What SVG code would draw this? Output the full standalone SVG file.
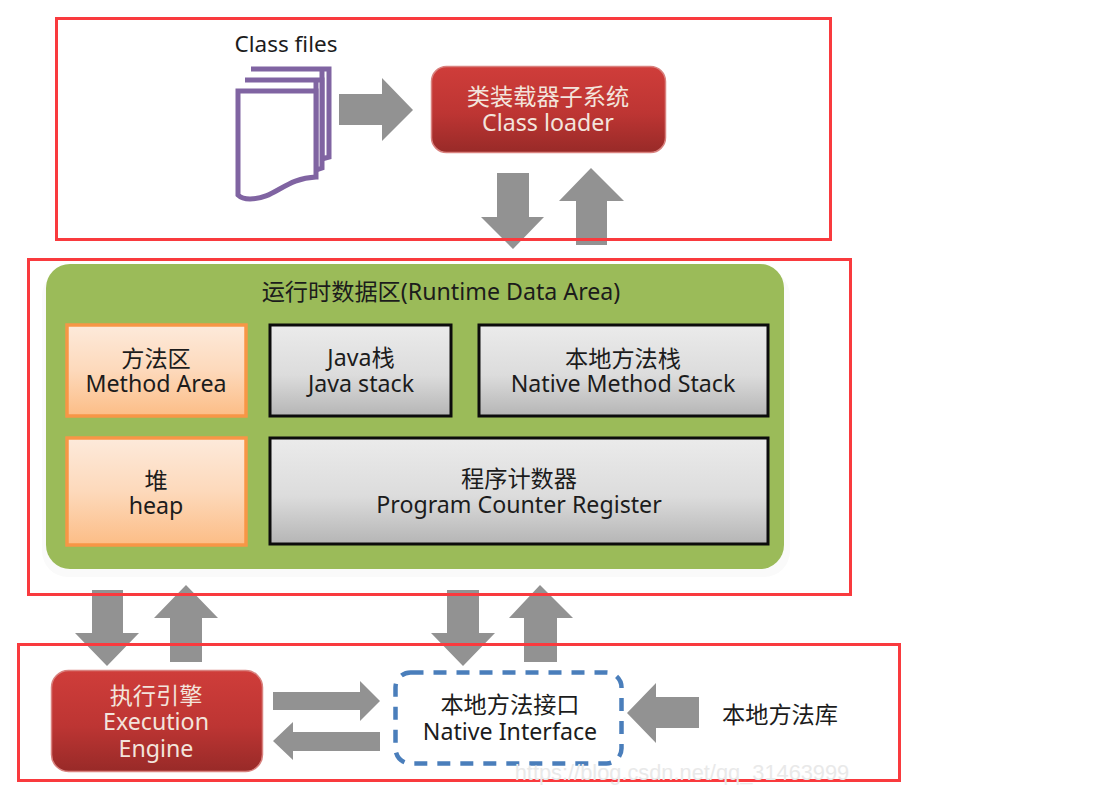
<svg xmlns="http://www.w3.org/2000/svg" width="1117" height="803" viewBox="0 0 1117 803">
<style>
text{font-family:"Noto Sans","Noto Sans CJK SC",sans-serif;font-size:23.200px;text-anchor:middle;fill:#1c1c1c}
.light{fill:#f3e4dc}
.arrow{fill:#929292}
.frame{fill:none;stroke:#f93a3e;stroke-width:3}
.orange{fill:url(#og);stroke:#f79646;stroke-width:3.500}
.gray{fill:url(#gg);stroke:#0c0c0c;stroke-width:3}
.redbox{fill:url(#rg);stroke:#d9827f;stroke-width:1.500}
.doc{fill:#fff;stroke:#8064a2;stroke-width:5}
</style>
<defs>
<linearGradient id="rg" x1="0" y1="0" x2="0" y2="1"><stop offset="0" stop-color="#cf3d3a"/><stop offset=".55" stop-color="#bd3533"/><stop offset="1" stop-color="#982a28"/></linearGradient>
<linearGradient id="og" x1="0" y1="0" x2="0" y2="1"><stop offset="0" stop-color="#fdeadb"/><stop offset=".5" stop-color="#fdd9bb"/><stop offset="1" stop-color="#fcbd86"/></linearGradient>
<linearGradient id="gg" x1="0" y1="0" x2="0" y2="1"><stop offset="0" stop-color="#ebebeb"/><stop offset=".55" stop-color="#dcdcdc"/><stop offset="1" stop-color="#b5b5b5"/></linearGradient>
</defs>
<rect width="1117" height="803" fill="#fff"/>

<g id="runtime-area">
<rect x="42" y="270" width="748" height="307" rx="26" fill="#fafafa"/>
<rect x="46" y="264" width="738" height="305" rx="24" fill="#9bbb59"/>
<text x="441" y="300">运行时数据区(Runtime Data Area)</text>
</g>
<g id="method-area"><rect class="orange" x="67" y="325" width="179" height="91"/><text><tspan x="156" y="367">方法区</tspan><tspan x="156" y="392">Method Area</tspan></text></g>
<g id="heap"><rect class="orange" x="67" y="438" width="179" height="107"/><text><tspan x="156" y="489">堆</tspan><tspan x="156" y="514">heap</tspan></text></g>
<g id="java-stack"><rect class="gray" x="270" y="325" width="181" height="91"/><text><tspan x="361" y="366">Java栈</tspan><tspan x="361" y="392">Java stack</tspan></text></g>
<g id="native-stack"><rect class="gray" x="479" y="325" width="289" height="91"/><text><tspan x="623" y="367">本地方法栈</tspan><tspan x="623" y="392">Native Method Stack</tspan></text></g>
<g id="pc-register"><rect class="gray" x="270" y="438" width="498" height="106"/><text><tspan x="519" y="487">程序计数器</tspan><tspan x="519" y="513">Program Counter Register</tspan></text></g>

<g id="class-files">
<text x="286" y="52" style="font-size:22.500px">Class files</text>
<path class="doc" d="M251 69H329V157L322 159V69Z"/>
<path class="doc" d="M245 80H322V168L316 170V80Z"/>
<path class="doc" d="M238 91H316V177C285 178 275 199 250 199C244 199 240 197 238 195Z"/>
</g>
<g id="class-loader"><rect class="redbox" x="431.500" y="66.500" width="234" height="86" rx="15"/><text class="light"><tspan x="548" y="105">类装载器子系统</tspan><tspan x="548" y="131">Class loader</tspan></text></g>
<g id="execution-engine"><rect class="redbox" x="51.500" y="670.500" width="211" height="101" rx="17"/><text class="light"><tspan x="156" y="704">执行引擎</tspan><tspan x="156" y="730">Execution</tspan><tspan x="156" y="757">Engine</tspan></text></g>
<g id="native-interface"><rect x="395.500" y="672.500" width="226" height="91" rx="15" fill="#fff" stroke="#4a7ebb" stroke-width="4.500" stroke-dasharray="13 10"/><text><tspan x="510" y="713">本地方法接口</tspan><tspan x="510" y="740">Native Interface</tspan></text></g>
<g id="native-library"><text x="780" y="723">本地方法库</text></g>

<g id="connectors">
<polygon class="arrow" points="339,94 382,94 382,78 413,110 382,141 382,125 339,125"/>
<polygon class="arrow" points="497,173 529,173 529,217 544,217 513,249 481,217 497,217"/>
<polygon class="arrow" points="576,245 607,245 607,201 624,201 591,168 559,201 576,201"/>
<polygon class="arrow" points="92,590 123,590 123,633 139,633 107,666 75,633 92,633"/>
<polygon class="arrow" points="170,662 202,662 202,618 218,618 186,585 154,618 170,618"/>
<polygon class="arrow" points="447,590 479,590 479,633 495,633 463,666 431,633 447,633"/>
<polygon class="arrow" points="524,662 557,662 557,618 573,618 540,585 509,618 524,618"/>
<polygon class="arrow" points="273,692 360,692 360,681 380,701 360,721 360,710 273,710"/>
<polygon class="arrow" points="380,732 293,732 293,722 273,741 293,760 293,751 380,751"/>
<polygon class="arrow" points="699,697 656,697 656,683 627,713 656,743 656,728 699,728"/>
</g>

<g id="frames">
<rect class="frame" x="56.500" y="18.500" width="774" height="221"/>
<rect class="frame" x="28.500" y="259.500" width="822" height="335"/>
<rect class="frame" x="18.500" y="644.500" width="881" height="136"/>
</g>
<text x="682" y="780" style="font-family:'Liberation Sans',sans-serif;font-size:21.800px;fill:#e9e9e9">https://blog.csdn.net/qq_31463999</text>
</svg>
